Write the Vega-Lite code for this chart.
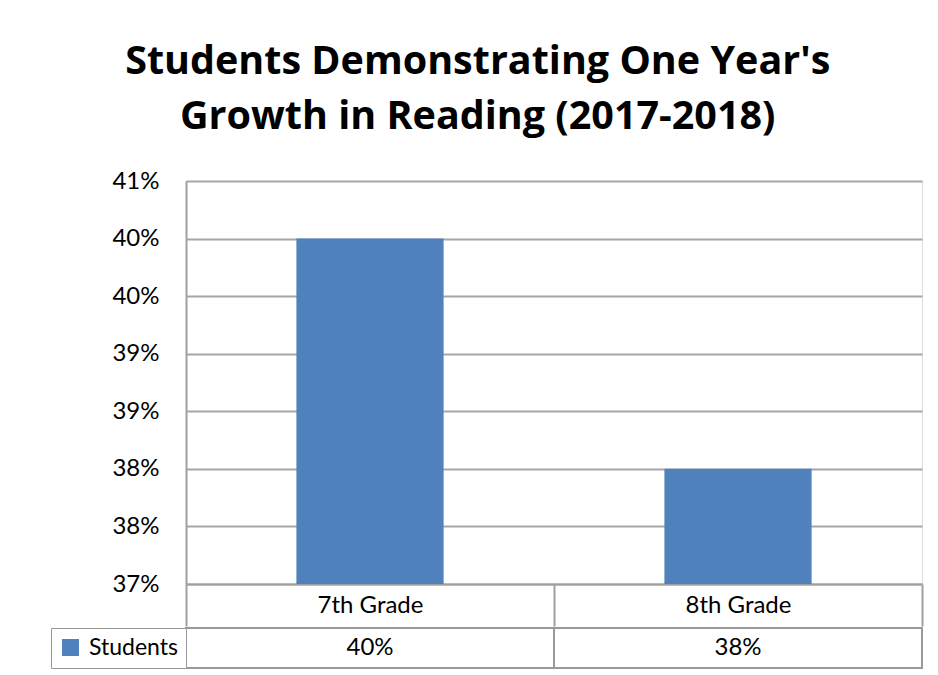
{
  "$schema": "https://vega.github.io/schema/vega-lite/v6.json",
  "background": "white",
  "padding": {"left": 49, "top": 42, "right": 16, "bottom": 8},
  "datasets": {
    "growth": [
      {"grade": "7th Grade", "value": 0.40, "series": "Students"},
      {"grade": "8th Grade", "value": 0.38, "series": "Students"}
    ]
  },
  "title": {
    "text": ["Students Demonstrating One Year's", "Growth in Reading (2017-2018)"],
    "font": "Open Sans",
    "fontWeight": "bold",
    "fontSize": 39.5,
    "lineHeight": 55,
    "color": "#000000",
    "anchor": "middle",
    "frame": "bounds",
    "offset": 31,
    "dx": -9
  },
  "spacing": -6,
  "resolve": {"legend": {"color": "independent"}},
  "vconcat": [
    {
      "width": 736,
      "height": 403,
      "data": {"name": "growth"},
      "mark": {"type": "bar", "color": "#4F81BD", "width": {"band": 0.4}},
      "encoding": {
        "x": {
          "field": "grade",
          "type": "nominal",
          "sort": null,
          "scale": {"paddingInner": 0, "paddingOuter": 0},
          "axis": {
            "title": null,
            "tickBand": "extent",
            "ticks": true,
            "tickSize": 42,
            "tickColor": "#A0A0A0",
            "tickWidth": 2,
            "domainColor": "#A0A0A0",
            "domainWidth": 2,
            "labelAngle": 0,
            "labelBaseline": "middle",
            "labelPadding": -21,
            "labelFont": "Lato",
            "labelFontSize": 24,
            "labelColor": "#000000",
            "grid": false
          }
        },
        "y": {
          "field": "value",
          "type": "quantitative",
          "scale": {"domain": [0.37, 0.405], "nice": false, "zero": false},
          "axis": {
            "title": null,
            "values": [0.37, 0.375, 0.38, 0.385, 0.39, 0.395, 0.4, 0.405],
            "labelExpr": "format(round(datum.value*200)/2 + 0.01, '.0f') + '%'",
            "ticks": false,
            "labelPadding": 27,
            "labelFont": "Lato",
            "labelFontSize": 24,
            "labelColor": "#000000",
            "domainColor": "#A0A0A0",
            "domainWidth": 2,
            "grid": true,
            "gridColor": "#A6A6A6",
            "gridWidth": 2,
            "minExtent": 134,
            "maxExtent": 134
          }
        },
        "y2": {"datum": 0.37}
      }
    },
    {
      "width": 736,
      "height": 40,
      "view": {"stroke": "#999999", "strokeWidth": 2},
      "data": {"name": "growth"},
      "encoding": {
        "x": {
          "field": "grade",
          "type": "nominal",
          "sort": null,
          "scale": {"paddingInner": 0, "paddingOuter": 0},
          "axis": null
        }
      },
      "layer": [
        {
          "mark": {"type": "rect", "fill": "white", "stroke": "#999999", "strokeWidth": 2}
        },
        {
          "mark": {"type": "text", "font": "Lato", "fontSize": 24, "color": "#000000", "baseline": "middle"},
          "encoding": {
            "text": {"field": "value", "type": "quantitative", "format": ".0%"}
          }
        },
        {
          "mark": {"type": "square", "size": 0, "opacity": 1},
          "encoding": {
            "color": {
              "field": "series",
              "type": "nominal",
              "scale": {"domain": ["Students"], "range": ["#4F81BD"]},
              "legend": {
                "title": null,
                "orient": "left",
                "offset": 0,
                "padding": 8,
                "strokeColor": "#999999",
                "fillColor": "white",
                "symbolType": "square",
                "symbolSize": 289,
                "symbolStrokeWidth": 0,
                "symbolOpacity": 1,
                "labelFont": "Lato",
                "labelFontSize": 23,
                "labelColor": "#000000",
                "labelOffset": 7
              }
            }
          }
        }
      ]
    }
  ]
}
